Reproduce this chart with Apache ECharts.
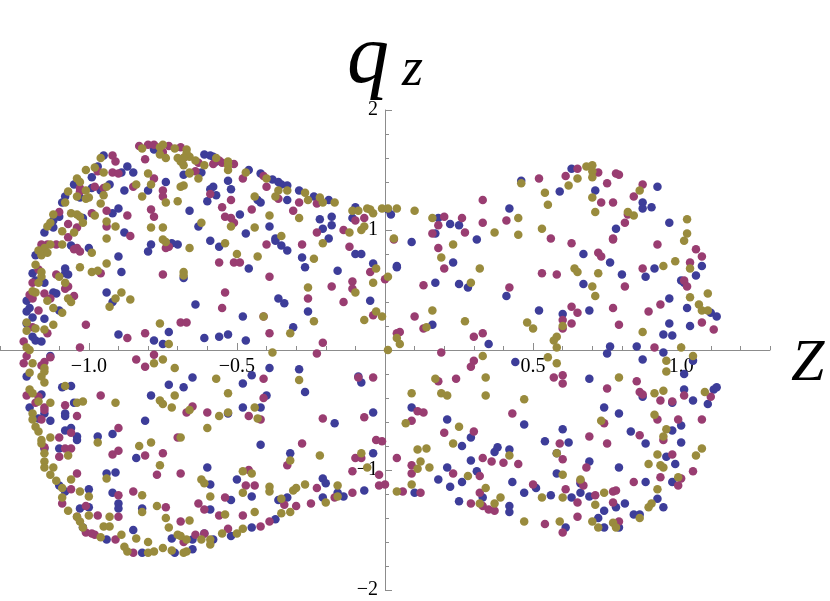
<!DOCTYPE html>
<html>
<head>
<meta charset="utf-8">
<script src="https://cdn.jsdelivr.net/npm/echarts@6/dist/echarts.min.js"></script>
<style>
  html, body { margin: 0; padding: 0; background: #fff; }
  #chart { width: 830px; height: 601px; }
</style>
</head>
<body>
<div id="chart"></div>
<script>
// points, [Z, q_z]
const bluePts = [
  [-0.78,1.67],[-0.95,1.62],[-0.97,1.53],[-0.89,1.48],[-0.87,1.53],[-0.85,1.48],[-0.68,1.46],[-0.99,1.44],[-1.05,1.38],[-0.99,1.35],
  [-0.96,1.33],[-0.93,1.38],[-1.03,1.27],[-1.08,1.28],[-1.09,1.23],[-0.88,1.33],[-0.80,1.33],[-0.74,1.40],[-0.66,1.16],[-0.63,1.03],
  [-1.10,1.11],[-1.12,1.08],[-1.12,1.02],[-1.15,0.98],[-1.02,1.10],[-0.92,1.14],[-0.90,1.18],[-0.88,0.98],[-0.79,0.88],[-0.72,0.89],
  [-0.70,0.88],[-1.06,0.87],[-1.00,0.85],
  [-0.61,1.63],[-0.59,1.62],[-0.58,1.61],[-0.57,1.57],[-0.62,1.48],[-0.46,1.50],[-0.42,1.47],[-0.38,1.42],[-0.36,1.40],[-0.35,1.38],
  [-0.33,1.37],[-0.53,1.41],[-0.52,1.34],[-0.58,1.36],[-0.59,1.34],[-0.57,1.29],[-0.60,1.24],[-0.43,1.25],[-0.42,1.23],[-0.33,1.25],
  [-0.29,1.33],[-0.24,1.28],[-0.19,1.25],[-0.49,1.13],[-0.39,1.03],[-0.47,0.97],[-0.59,0.91],[-0.56,0.86],[-0.37,0.93],[-0.35,0.87],
  [-0.33,0.83],[-0.22,1.09],[-0.18,1.11],[-0.21,1.01],[-0.18,1.04],[-0.19,0.93],[-0.11,1.10],[-0.10,1.19],[0.02,1.13],
  [0.01,1.17],[0.18,1.10],[0.22,1.05],[0.25,1.04],[0.17,0.97],[0.09,0.90],[0.04,0.69],[0.23,0.73],[0.31,0.92],[0.42,1.18],
  [0.46,1.41],[0.59,1.32],[0.63,1.51],
  [0.71,1.33],[0.92,1.36],[0.87,1.23],[0.87,1.18],[0.90,1.19],[0.78,1.01],[0.96,1.06],[0.67,0.80],[0.76,0.73],[0.91,0.68],[1.07,0.70],
  [-1.18,0.79],[-1.19,0.64],[-1.18,0.58],[-1.08,0.68],[-1.08,0.64],[-1.07,0.63],[-0.90,0.78],[-0.89,0.65],[-1.15,0.56],[-1.21,0.41],
  [-1.12,0.48],[-1.11,0.47],[-1.20,0.35],[-1.21,0.32],[-1.15,0.26],[-1.10,0.33],[-1.19,0.27],[-1.21,0.22],[-1.19,0.11],[-1.18,0.08],
  [-1.16,0.07],[-0.94,0.48],[-0.92,0.40],[-0.90,0.13],[-0.78,0.08],[-0.73,0.15],[-0.75,0.05],[-0.64,0.38],[-0.68,0.60],[-0.80,0.82],
  [-1.13,-0.05],
  [-0.46,0.68],[-0.48,0.28],[-0.36,0.43],[-0.34,0.39],[-0.61,0.10],[-0.56,0.11],[-0.53,0.13],[-0.47,0.08],[-0.37,0.91],[-0.28,0.77],
  [-0.27,0.69],[-0.16,0.66],[-0.10,0.80],[-0.08,0.80],[-0.04,0.72],[0.04,0.70],[-0.26,0.32],[-0.05,0.41],[-0.31,0.19],[-0.39,-0.15],
  [-0.29,-0.16],
  [0.17,0.56],[0.25,0.55],[0.28,0.52],[0.41,0.45],[0.16,0.21],[0.35,0.05],[0.44,-0.10],[0.52,0.33],[0.60,0.30],
  [0.80,0.63],[0.88,0.61],[1.05,0.62],[0.67,0.55],[1.00,0.58],[1.01,0.56],[0.69,0.33],[0.96,0.43],[1.02,0.35],[1.10,0.31],
  [1.12,0.28],[1.03,0.20],[0.96,0.22],[0.94,0.13],[0.97,0.12],[0.76,0.03],[0.85,0.03],[0.75,-0.03],[0.94,-0.02],[0.87,-0.08],
  [1.04,-0.09],
  [-1.21,-0.22],[-1.09,-0.31],[-1.06,-0.30],[-1.16,-0.37],[-1.20,-0.48],[-1.15,-0.53],[-1.17,-0.57],[-1.13,-0.59],[-1.05,-0.44],[-1.08,-0.53],
  [-1.08,-0.55],[-1.08,-0.67],[-1.06,-0.65],[-1.04,-0.72],[-1.04,-0.75],[-1.15,-0.82],[-1.10,-0.82],[-0.97,-0.72],[-0.92,-0.70],[-0.84,-0.90],
  [-0.94,-1.03],[-0.91,-1.02],[-1.10,-1.13],[-1.08,-1.18],[-1.00,-1.16],[-1.03,-1.32],[-1.00,-1.31],[-0.92,-1.19],[-0.90,-1.28],[-0.90,-1.32],
  [-0.82,-1.32],[-0.72,-1.57],[-0.65,-1.58],[-1.02,-1.48],[-0.94,-1.58],[-0.85,-1.50],[-0.82,-1.69],[-0.71,-1.69],[-0.65,-0.23],[-0.73,-0.29],
  [-0.68,-0.31],[-0.79,-0.38],[-0.81,-0.59],
  [-0.48,-0.28],[-0.45,-0.21],[-0.27,-0.35],[-0.40,-0.38],[-0.48,-0.48],[-0.42,-0.48],[-0.53,-0.53],[-0.42,-0.79],[-0.32,-0.86],[-0.17,-0.61],
  [-0.04,-0.52],[-0.09,-0.22],[-0.08,-0.27],[-0.04,-0.86],[-0.07,-1.17],[-0.60,-0.98],[-0.50,-1.08],[-0.59,-1.12],[-0.45,-1.22],[-0.52,-1.25],
  [-0.59,-1.33],[-0.36,-1.25],[-0.33,-1.23],[-0.21,-1.07],[-0.20,-1.11],[-0.21,-1.23],[-0.16,-1.19],[-0.14,-1.22],[-0.37,-1.41],[-0.45,-1.48],
  [-0.52,-1.55],[-0.58,-1.58],[-0.61,-1.53],[-0.65,-1.66],
  [0.10,-1.19],[0.18,-1.08],[0.21,-0.98],[0.22,-1.14],[0.31,-1.01],[0.26,-1.10],[0.25,-1.26],[0.33,-1.23],[0.29,-0.92],[0.26,-0.80],
  [0.29,-0.73],[0.21,-0.58],[0.09,-0.48],[0.37,-0.85],[0.38,-0.81],[0.42,-0.83],[0.43,-1.10],[0.47,-1.19],[0.47,-0.62],[0.42,-1.30],
  [0.42,-1.35],[0.54,-0.76],[0.56,-1.21],[0.51,-1.15],[0.60,-0.66],[0.62,-0.77],[0.58,-0.86],[0.58,-1.03],[0.63,-1.23],[0.61,-1.48],
  [1.01,-0.20],[0.69,-0.24],[0.87,-0.39],[0.97,-0.44],[1.01,-0.33],[1.04,-0.42],[1.09,-0.45],[1.11,-0.33],[1.12,-0.31],[0.74,-0.48],
  [0.79,-0.53],[1.00,-0.63],[0.97,-0.67],[0.83,-0.68],[0.88,-0.78],[1.00,-0.77],[0.95,-0.89],[0.98,-0.95],[0.97,-1.10],[0.88,-1.10],
  [0.69,-0.93],[0.79,-0.98],[0.66,-1.11],[0.66,-1.19],[0.69,-1.22],[0.78,-1.31],[0.81,-1.28],[0.74,-1.34],[0.92,-1.24],[0.94,-1.31],
  [0.84,-1.37],[0.86,-1.37],[0.72,-1.40],[0.74,-1.48],[0.79,-1.48]
];

const magentaPts = [
  [-0.83,1.70],[-0.80,1.71],[-0.78,1.71],[-0.73,1.70],[-0.69,1.69],[-0.75,1.65],[-0.68,1.60],[-0.63,1.56],[-0.81,1.59],[-0.92,1.62],
  [-0.91,1.57],[-0.97,1.49],[-0.92,1.48],[-0.90,1.47],[-0.78,1.43],[-0.98,1.36],[-0.95,1.35],[-1.03,1.35],[-1.03,1.32],[-0.85,1.36],
  [-0.75,1.33],[-0.75,1.28],[-0.79,1.17],[-0.78,1.11],[-1.10,1.15],[-0.99,1.14],[-1.04,1.02],[-1.07,0.94],[-1.07,1.05],[-0.94,1.16],
  [-0.87,1.12],[-0.94,1.03],[-0.86,0.95],[-0.73,0.86],[-1.14,0.88],[-1.11,0.88],[-1.04,0.85],
  [-0.56,1.58],[-0.55,1.56],[-0.58,1.55],[-0.51,1.55],[-0.64,1.49],[-0.48,1.43],[-0.41,1.45],[-0.40,1.36],[-0.59,1.30],[-0.45,1.17],
  [-0.36,1.26],[-0.29,1.23],[-0.23,1.22],[-0.31,1.16],[-0.52,1.25],[-0.55,1.19],[-0.54,1.11],[-0.52,1.10],[-0.51,1.06],[-0.40,0.88],
  [-0.28,0.88],[-0.23,0.98],[-0.14,1.00],[-0.12,0.86],[-0.10,1.08],[-0.07,1.10],
  [0.03,0.92],[0.20,1.11],[0.18,1.04],[0.26,1.10],[0.27,0.98],[0.16,0.97],[0.18,0.85],[0.20,0.68],[0.33,1.25],[0.33,1.06],
  [0.41,1.08],[0.52,1.43],[0.56,0.93],[0.63,0.89],[0.61,1.45],[0.65,1.51],
  [0.72,1.48],[0.73,1.23],[0.75,1.39],[0.78,1.47],[0.79,1.46],[0.77,1.23],[0.87,1.38],[0.84,1.28],[0.82,1.13],[0.81,1.06],
  [0.77,0.93],[0.92,0.88],[0.72,0.81],[0.73,0.78],[0.87,0.68],[1.05,0.84],[1.07,0.78],[1.03,0.73],
  [-1.16,0.88],[-1.05,0.84],[-1.03,0.82],[-1.17,0.67],[-1.11,0.63],[-0.96,0.64],[-1.19,0.56],[-1.07,0.53],[-1.08,0.51],[-1.20,0.46],
  [-1.19,0.43],[-1.15,0.47],[-1.13,0.43],[-1.05,0.45],[-1.17,0.33],[-1.19,0.19],[-1.14,0.14],[-1.22,0.07],[-1.01,0.21],[-1.03,0.02],
  [-0.87,0.10],[-0.81,0.14],[-0.69,0.23],[-0.67,0.23],[-0.75,0.63],[-0.74,0.85],[-1.13,-0.06],[-0.84,-0.08],[-0.78,-0.04],[-1.21,-0.05],
  [-1.15,-0.10],
  [-0.56,0.73],[-0.51,0.73],[-0.49,0.73],[-0.39,0.61],[-0.54,0.48],[-0.55,0.35],[-0.41,0.28],[-0.39,0.14],[-0.05,0.65],[0.00,0.59],
  [-0.18,0.53],[-0.26,0.43],[-0.11,0.57],[-0.11,0.51],[-0.14,0.40],[-0.04,0.29],[-0.21,0.06],[-0.23,-0.03],[0.04,0.14],
  [0.13,0.54],[0.42,0.52],[0.53,0.64],[0.58,0.63],[0.10,0.28],[0.13,0.18],[0.05,0.15],[0.19,-0.02],[0.30,0.11],[0.33,0.14],
  [0.30,-0.09],[0.29,-0.14],[0.63,0.36],[0.65,0.31],[0.60,0.25],[0.63,0.22],[0.60,0.18],
  [0.77,0.92],[0.81,0.53],[1.01,0.58],[1.02,0.53],[0.77,0.35],[0.93,0.38],[0.89,0.32],[1.07,0.23],[1.11,0.17],[0.79,0.21],
  [0.91,0.02],
  [-1.22,-0.11],[-1.16,-0.13],[-1.21,-0.38],[-1.17,-0.39],[-1.18,-0.44],[-1.15,-0.48],[-1.15,-0.50],[-1.16,-0.58],[-1.08,-0.46],[-0.96,-0.38],
  [-1.04,-0.55],[-1.06,-0.69],[-1.10,-0.73],[-1.15,-0.81],[-1.08,-0.82],[-1.06,-0.82],[-1.10,-0.89],[-0.90,-0.65],[-0.90,-0.84],[-0.92,-0.87],
  [-0.81,-0.88],[-0.75,-0.86],[-0.77,-1.04],[-0.70,-0.73],[-0.69,-1.03],[-1.04,-1.03],[-1.09,-1.28],[-1.06,-1.16],[-1.01,-1.30],[-1.04,-1.39],
  [-0.97,-1.38],[-0.90,-1.21],[-0.85,-1.18],[-0.90,-1.39],[-0.74,-1.31],[-0.69,-1.43],[-0.68,-1.60],[-1.01,-1.52],[-0.99,-1.53],[-0.98,-1.54],
  [-0.91,-1.58],[-0.85,-1.69],[-0.81,-0.14],[-0.67,-0.52],[-0.65,-0.47],
  [-0.41,-0.24],[-0.41,-0.40],[-0.60,-0.52],[-0.46,-0.55],[-0.42,-0.58],[-0.28,-0.78],[-0.33,-0.96],[-0.21,-0.57],[-0.07,-0.56],[-0.09,-0.23],
  [-0.04,-0.23],[-0.03,-0.75],[-0.01,-0.76],[-0.10,-0.90],[-0.08,-0.90],[-0.11,-1.01],[-0.02,-1.04],[0.00,-1.12],[-0.02,-1.13],[-0.11,-1.19],
  [0.04,-0.90],[-0.46,-1.00],[-0.47,-1.13],[-0.44,-1.13],[-0.54,-1.23],[-0.63,-1.28],[-0.61,-1.33],[-0.56,-1.38],[-0.48,-1.38],[-0.34,-1.29],
  [-0.30,-1.30],[-0.23,-1.15],[-0.25,-1.28],[-0.17,-1.23],[-0.39,-1.43],[-0.42,-1.47],[-0.53,-1.49],[-0.61,-1.53],[-0.64,-1.54],
  [0.06,-1.18],[0.12,-1.19],[0.09,-1.03],[0.09,-0.96],[0.23,-1.03],[0.32,-1.05],[0.29,-1.28],[0.33,-1.30],[0.35,-1.33],[0.37,-1.34],
  [0.32,-1.19],[0.33,-0.90],[0.36,-0.93],[0.30,-0.68],[0.20,-0.69],[0.09,-0.59],[0.11,-0.51],[0.13,-0.52],[0.18,-0.26],[0.24,-0.24],
  [0.40,-0.94],[0.45,-0.95],[0.43,-0.53],[0.54,-1.45],[0.50,-1.12],[0.57,-0.23],[0.60,-0.21],[0.60,-0.28],[0.59,-0.78],[0.60,-0.91],
  [0.61,-1.16],[0.65,-1.27],[0.60,-1.52],[0.65,-1.39],
  [0.75,-0.32],[0.85,-0.26],[0.86,-0.35],[0.87,-0.37],[0.93,-0.42],[0.97,-0.43],[1.01,-0.38],[1.10,-0.39],[1.07,-0.58],[0.74,-0.61],
  [0.92,-0.58],[0.99,-0.58],[0.94,-0.75],[0.86,-0.71],[0.69,-0.72],[0.75,-0.78],[0.97,-0.87],[1.04,-1.01],[0.93,-1.06],[1.00,-1.07],
  [0.99,-1.13],[0.84,-1.10],[0.68,-0.98],[0.66,-1.09],[0.67,-1.13],[0.71,-1.21],[0.77,-1.18],[0.78,-1.17],[0.77,-1.27],[0.79,-1.43]
];

const olivePts = [
  [-0.76,1.69],[-0.75,1.71],[-0.71,1.68],[-0.67,1.67],[-0.82,1.68],[-0.76,1.63],[-0.74,1.60],[-0.69,1.57],[-0.70,1.60],[-0.66,1.61],
  [-0.64,1.58],[-0.96,1.60],[-0.98,1.52],[-0.95,1.48],[-0.80,1.47],[-0.66,1.47],[-0.63,1.43],[-1.01,1.50],[-1.04,1.43],[-1.03,1.40],
  [-0.94,1.36],[-1.01,1.33],[-1.01,1.26],[-1.00,1.27],[-1.04,1.28],[-1.07,1.32],[-1.08,1.23],[-0.84,1.38],[-0.82,1.28],[-0.79,1.38],
  [-0.95,1.29],[-0.96,1.22],[-0.69,1.36],[-0.74,1.23],[-0.70,1.24],[-0.79,1.02],[-0.75,1.02],[-0.62,1.06],[-1.12,1.13],[-1.13,1.06],
  [-1.14,1.03],[-1.06,1.14],[-1.04,1.13],[-1.03,1.11],[-0.98,1.12],[-1.02,1.06],[-1.05,0.98],[-1.09,0.99],[-0.94,1.07],[-0.91,1.03],
  [-0.94,0.93],[-0.75,0.92],[-0.66,0.85],[-1.09,0.88],[-1.15,0.85],
  [-0.67,1.64],[-0.57,1.60],[-0.53,1.57],[-0.53,1.54],[-0.53,1.50],[-0.61,1.54],[-0.68,1.60],[-0.68,1.54],[-0.66,1.48],[-0.68,1.37],
  [-0.47,1.48],[-0.40,1.43],[-0.33,1.33],[-0.36,1.33],[-0.44,1.28],[-0.37,1.28],[-0.27,1.31],[-0.26,1.25],[-0.22,1.27],[-0.21,1.23],
  [-0.17,1.23],[-0.29,1.10],[-0.52,1.03],[-0.44,1.02],[-0.39,1.12],[-0.54,0.89],[-0.35,0.95],[-0.21,0.89],[-0.12,0.98],[-0.11,1.16],
  [-0.09,1.16],[-0.08,1.00],[-0.07,1.03],[-0.06,1.18],[-0.05,1.17],[-0.04,1.14],[-0.01,1.18],[0.01,1.18],[0.04,1.18],[0.03,0.93],
  [0.10,1.16],[0.16,1.10],[0.19,0.77],[0.23,0.88],[0.37,0.98],[0.45,1.10],[0.45,0.96],[0.46,1.39],[0.54,1.31],[0.55,1.21],
  [0.53,1.01],[0.62,1.37],[0.65,1.43],[0.32,0.68],[0.64,0.68],
  [0.68,1.53],[0.70,1.54],[0.70,1.49],[0.70,1.44],[0.70,1.27],[0.71,1.15],[0.86,1.33],[0.82,1.15],[0.84,1.12],[1.02,1.09],
  [1.02,0.97],[1.01,0.91],[0.94,0.70],[0.98,0.74],[1.03,0.68],
  [-1.13,0.88],[-1.17,0.83],[-1.16,0.79],[-1.14,0.81],[-0.99,0.81],[-1.18,0.71],[-1.16,0.65],[-1.16,0.61],[-1.10,0.61],[-1.03,0.69],
  [-0.99,0.65],[-0.97,0.66],[-0.94,0.72],[-1.17,0.56],[-1.08,0.56],[-1.19,0.49],[-1.18,0.48],[-1.14,0.41],[-1.07,0.43],[-1.06,0.40],
  [-1.12,0.35],[-1.09,0.31],[-1.21,0.23],[-1.18,0.18],[-1.15,0.17],[-1.12,0.21],[-1.21,0.16],[-1.21,0.02],[-0.89,0.48],[-0.91,0.43],
  [-0.93,0.36],[-0.86,0.42],[-0.76,0.22],[-0.73,0.05],[-0.68,0.65],[-0.74,0.90],[-0.78,-0.11],[-1.20,0.00],[-0.71,-0.15],[-1.15,-0.15],
  [-0.50,0.80],[-0.43,0.78],[-0.68,0.62],[-0.41,0.28],[-0.38,-0.02],[-0.24,0.76],[-0.03,0.68],[-0.04,0.56],[0.01,0.61],[-0.26,0.52],
  [-0.24,0.24],[-0.10,0.48],[-0.03,0.32],[-0.01,0.28],[-0.07,0.25],[-0.32,0.14],[0.01,0.00],[0.04,0.10],
  [0.29,0.56],[0.65,0.65],[0.16,0.33],[0.27,0.24],[0.14,0.19],[0.05,0.05],[0.33,-0.05],[0.48,0.23],[0.50,0.18],[0.60,0.20],
  [0.58,0.11],[0.57,0.08],[0.58,0.02],[0.55,-0.06],[0.58,-0.11],
  [0.72,0.64],[0.70,0.53],[0.71,0.45],[1.03,0.44],[1.09,0.47],[1.06,0.38],[1.07,0.33],[1.09,0.33],[0.87,0.15],[1.00,0.02],
  [0.95,-0.09],[1.04,-0.05],
  [-1.19,-0.11],[-1.20,-0.19],[-1.16,-0.22],[-1.15,-0.27],[-1.15,-0.18],[-1.08,-0.30],[-1.20,-0.33],[-1.19,-0.36],[-1.17,-0.43],[-1.13,-0.44],
  [-1.04,-0.44],[-1.02,-0.43],[-0.91,-0.44],[-1.19,-0.53],[-1.19,-0.58],[-1.13,-0.73],[-1.18,-0.64],[-1.17,-0.68],[-1.16,-0.75],[-1.16,-0.78],
  [-1.15,-0.86],[-1.15,-0.93],[-1.15,-0.98],[-1.12,-0.98],[-1.07,-0.88],[-0.97,-0.77],[-0.83,-0.80],[-0.79,-0.77],[-0.76,-0.96],[-1.13,-1.04],
  [-1.11,-1.09],[-1.06,-1.08],[-0.94,-1.07],[-1.09,-1.15],[-1.09,-1.23],[-1.00,-1.22],[-1.03,-1.18],[-1.07,-1.34],[-1.04,-1.39],[-1.03,-1.43],
  [-1.00,-1.38],[-0.82,-1.21],[-0.93,-1.39],[-0.82,-1.35],[-0.77,-1.30],[-0.74,-1.40],[-0.73,-1.48],[-0.66,-1.42],[-0.70,-1.54],[-0.67,-1.58],
  [-1.02,-1.48],[-0.96,-1.56],[-0.95,-1.47],[-0.93,-1.47],[-0.89,-1.54],[-0.84,-1.57],[-0.88,-1.64],[-0.87,-1.68],[-0.80,-1.69],[-0.78,-1.68],
  [-0.75,-1.65],[-0.80,-1.60],[-0.72,-1.67],[-0.68,-1.69],[-0.71,-0.38],[-0.76,-0.42],[-0.75,-0.45],[-0.72,-0.48],[-0.66,-0.50],[-0.75,-0.08],
  [-0.57,-0.24],[-0.29,-0.25],[-0.53,-0.36],[-0.44,-0.48],[-0.53,-0.52],[-0.56,-0.55],[-0.43,-0.57],[-0.60,-0.65],[-0.32,-0.92],[-0.22,-0.88],
  [-0.08,-0.86],[-0.06,-0.98],[0.04,-1.18],[-0.69,-0.73],[-0.48,-1.01],[-0.45,-1.03],[-0.62,-1.08],[-0.61,-1.11],[-0.39,-1.14],[-0.39,-1.18],
  [-0.48,-1.19],[-0.59,-1.22],[-0.54,-1.37],[-0.44,-1.35],[-0.35,-1.24],[-0.31,-1.17],[-0.30,-1.15],[-0.27,-1.12],[-0.20,-1.27],[-0.16,-1.13],
  [-0.16,-1.22],[-0.35,-1.36],[-0.32,-1.35],[-0.48,-1.49],[-0.50,-1.53],[-0.55,-1.53],[-0.59,-1.58],[-0.59,-1.62],[-0.62,-1.58],[-0.69,-1.55],
  [-0.67,-1.68],
  [0.09,-1.12],[0.11,-0.99],[0.12,-0.93],[0.15,-0.98],[0.11,-0.83],[0.14,-0.82],[0.28,-1.05],[0.32,-1.28],[0.37,-1.28],[0.39,-1.23],
  [0.34,-1.15],[0.23,-0.78],[0.25,-0.64],[0.07,-0.61],[0.09,-0.36],[0.17,-0.24],[0.19,-0.36],[0.21,-0.38],[0.34,-0.23],[0.34,-0.38],
  [0.42,-0.88],[0.47,-1.43],[0.47,-0.41],[0.53,-1.23],[0.60,-1.23],[0.58,-0.86],[0.60,-1.04],[0.59,-1.43],[0.66,-1.08],
  [0.95,-0.18],[0.79,-0.23],[0.91,-0.36],[0.94,-0.34],[1.08,-0.35],[0.73,-0.59],[0.91,-0.54],[0.95,-0.66],[0.94,-0.72],[1.07,-0.82],
  [1.05,-0.88],[0.92,-0.87],[0.89,-0.95],[0.93,-0.96],[0.94,-0.98],[0.99,-1.06],[0.74,-1.19],[0.71,-1.29],[0.92,-1.16],[0.90,-1.28],
  [0.89,-1.31],[0.86,-1.40],[0.70,-1.43],[0.72,-1.48],[0.77,-1.44],[0.78,-1.48]
];

// ticks and labels
const xLabelValues = [-1.0, -0.5, 0.5, 1.0];
const yLabelValues = [-2, -1, 1, 2];

const serif = 'Liberation Serif';
const axisGray = '#8c8c8c';

function tickLabel (v, shown, digits) {
  const r = Math.round(Number(v) * 10) / 10;
  if (shown.indexOf(r) < 0) return '';
  return r.toFixed(digits).replace('-', '\u2212');
}

const chart = echarts.init(document.getElementById('chart'));

// axes cross at the origin: grid is 770 x 480, zero sits 385 px from the left and 240 px above the bottom
chart.setOption({
  animation: false,
  backgroundColor: '#fff',
  grid: {
    left: 0,
    right: 60,
    top: 110,
    bottom: 11,
    outerBoundsMode: 'none'
  },
  xAxis: [
    {
      type: 'value',
      min: -1.3,
      max: 1.3,
      interval: 0.1,
      position: 'bottom',
      offset: -240,
      axisLine: { onZero: false, lineStyle: { color: axisGray, width: 1 } },
      axisTick: { show: true, inside: true, length: 4, lineStyle: { color: axisGray } },
      axisLabel: {
        show: true,
        margin: 7,
        color: '#000',
        fontFamily: serif,
        fontSize: 20,
        formatter: (v) => tickLabel(v, xLabelValues, 1)
      },
      splitLine: { show: false }
    },
    {
      type: 'value',
      min: -1.3,
      max: 1.3,
      position: 'bottom',
      offset: -240,
      axisLine: { show: false, onZero: false },
      axisTick: { show: true, inside: true, length: 7, customValues: xLabelValues, lineStyle: { color: axisGray } },
      axisLabel: { show: false },
      splitLine: { show: false }
    }
  ],
  yAxis: [
    {
      type: 'value',
      min: -2,
      max: 2,
      interval: 0.2,
      position: 'left',
      offset: -385,
      axisLine: { onZero: false, lineStyle: { color: axisGray, width: 1 } },
      axisTick: { show: true, inside: true, length: 4, lineStyle: { color: axisGray } },
      axisLabel: {
        show: true,
        margin: 7,
        color: '#000',
        fontFamily: serif,
        fontSize: 20,
        formatter: (v) => tickLabel(v, yLabelValues, 0)
      },
      splitLine: { show: false }
    },
    {
      type: 'value',
      min: -2,
      max: 2,
      position: 'left',
      offset: -385,
      axisLine: { show: false, onZero: false },
      axisTick: { show: true, inside: true, length: 7, customValues: yLabelValues, lineStyle: { color: axisGray } },
      axisLabel: { show: false },
      splitLine: { show: false }
    }
  ],
  graphic: [
    {
      type: 'text',
      left: 347,
      top: 18,
      style: { text: 'q', font: 'italic 84px "Liberation Serif"', fill: '#000' }
    },
    {
      type: 'text',
      left: 402,
      top: 44,
      style: { text: 'z', font: 'italic 54px "Liberation Serif"', fill: '#000' }
    },
    {
      type: 'text',
      left: 791,
      top: 334,
      style: { text: 'Z', font: 'italic 60px "Liberation Serif"', fill: '#000' }
    }
  ],
  series: [
    {
      type: 'scatter',
      name: 'blue',
      data: bluePts,
      symbolSize: 8.5,
      itemStyle: { color: '#3d3d99', opacity: 1 }
    },
    {
      type: 'scatter',
      name: 'magenta',
      data: magentaPts,
      symbolSize: 8.5,
      itemStyle: { color: '#993d71', opacity: 1 }
    },
    {
      type: 'scatter',
      name: 'olive',
      data: olivePts,
      symbolSize: 8.5,
      itemStyle: { color: '#998b3d', opacity: 1 }
    }
  ]
});
</script>
</body>
</html>
